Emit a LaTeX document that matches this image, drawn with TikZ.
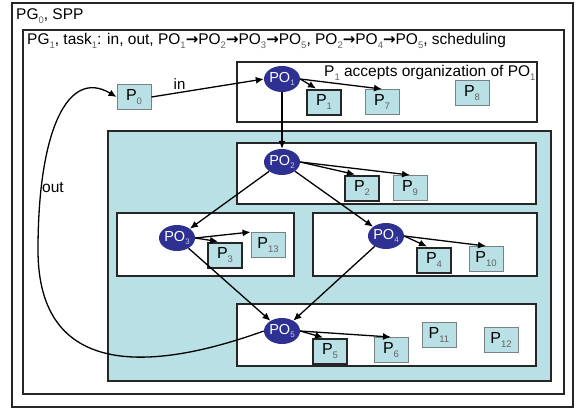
\documentclass[tikz,border=0pt]{standalone}
\usepackage{fontspec}
\setmainfont{Liberation Sans}
\newfontfamily\arrfont{DejaVu Sans}
\usetikzlibrary{shapes.geometric,arrows.meta,calc}

\definecolor{tealfill}{RGB}{185,224,228}
\definecolor{ponavy}{RGB}{46,48,146}
\definecolor{subgray}{RGB}{100,100,100}
\definecolor{thinedge}{RGB}{120,130,130}

% subscripts and arrows used in the labels
\newcommand\sbs[1]{\raisebox{-0.45ex}{\fontsize{9.5}{9.5}\selectfont\color{subgray}#1}}
\newcommand\posbs[1]{\raisebox{-0.45ex}{\fontsize{8}{8}\selectfont\color{white!75!ponavy}#1}}
\newcommand\rarr{{\arrfont\fontsize{15}{16}\selectfont\bfseries →}}

\tikzset{
  frame/.style={draw=black!85, line width=1.9pt},
  pbox/.style={rectangle, fill=tealfill, draw=thinedge, line width=0.9pt,
    minimum width=34pt, minimum height=25pt, inner sep=1pt,
    font=\fontsize{16}{16}\selectfont},
  pboxk/.style={pbox, draw=black!85, line width=2pt},
  po/.style={ellipse, fill=ponavy, draw=none, text=white, minimum width=36pt,
    minimum height=26pt, inner sep=0pt, font=\fontsize{14.5}{14.5}\selectfont},
  link/.style={draw=black, line width=1.3pt, -{Latex[length=8pt,width=7pt]}},
  caption/.style={anchor=west, inner sep=0pt, font=\fontsize{15.5}{17}\selectfont},
}

\begin{document}
\begin{tikzpicture}[x=1pt, y=-1pt]
\useasboundingbox (0,0) rectangle (576,410);

% nested frames
\draw[frame] (12,3) rectangle (573,407);
\node[caption] (t0) at (16,16) {PG\sbs{0}, SPP};
\draw[frame] (23,30) rectangle (564,394);
\node[caption] (t1) at (27,41) {PG\sbs{1}, task\sbs{1}: in, out, PO\sbs{1}\rarr PO\sbs{2}\rarr PO\sbs{3}\rarr PO\sbs{5}, PO\sbs{2}\rarr PO\sbs{4}\rarr PO\sbs{5}, scheduling};

% group frames
\draw[frame, fill=white] (237,62) rectangle (537,122);
\draw[frame, fill=tealfill] (108,131) rectangle (551,381);
\draw[frame, fill=white] (237,143) rectangle (536,204);
\draw[frame, fill=white] (117,213) rectangle (294,276);
\draw[frame, fill=white] (313,213) rectangle (537,276);
\draw[frame, fill=white] (237,304) rectangle (536,366);

% processes
\node[pbox] (P0) at (134,97) {P\sbs{0}};

\node[po] (PO1) at (282,79) {PO\posbs{1}};
\node[pboxk] (P1) at (324,102) {P\sbs{1}};
\node[pbox] (P7) at (382,102) {P\sbs{7}};
\node[pbox] (P8) at (472,93) {P\sbs{8}};
\node[caption] (note) at (324,73) {P\sbs{1} accepts organization of PO\sbs{1}};

\node[po] (PO2) at (282,162) {PO\posbs{2}};
\node[pboxk] (P2) at (362,188) {P\sbs{2}};
\node[pbox] (P9) at (410,188) {P\sbs{9}};

\node[po] (PO3) at (177,238) {PO\posbs{3}};
\node[pboxk] (P3) at (225,255) {P\sbs{3}};
\node[pbox] (P13) at (268,245) {P\sbs{13}};

\node[po] (PO4) at (386,236) {PO\posbs{4}};
\node[pboxk] (P4) at (434,260) {P\sbs{4}};
\node[pbox] (P10) at (486,259) {P\sbs{10}};

\node[po] (PO5) at (282,331) {PO\posbs{5}};
\node[pboxk] (P5) at (330,351) {P\sbs{5}};
\node[pbox] (P6) at (391,350) {P\sbs{6}};
\node[pbox] (P11) at (439,335) {P\sbs{11}};
\node[pbox] (P12) at (501,340) {P\sbs{12}};

% connectors
\draw[link] (P0.east) -- node[above, pos=0.25, inner sep=2pt, font=\fontsize{15}{15}\selectfont] (inlbl) {in} (PO1.west);
\draw[link] (PO1.east) -- ([xshift=10pt]P1.north west);
\draw[link] (PO1.east) -- (P7.north);
\draw[link] (PO1.south) -- (PO2.north);

\draw[link] (PO2.east) -- ([xshift=-7pt]P2.north);
\draw[link] (PO2.east) -- (P9.north);
\draw[link] (PO2) -- (PO3);
\draw[link] (PO2) -- (PO4);

\draw[link] (PO3.east) -- ([xshift=-7pt]P3.north);
\draw[link] (PO3.east) -- (P13.north west);
\draw[link] (PO4.east) -- ([xshift=-7pt]P4.north);
\draw[link] (PO4.east) -- (P10.north);

\draw[link] (PO3) -- (PO5);
\draw[link] (PO4) -- (PO5);

\draw[link] (PO5.east) -- ([xshift=-7pt]P5.north);
\draw[link] (PO5.east) -- (P6.north);

% return path from PO5 back to P0
\coordinate (bend) at (38,250);
\draw[link] (PO5.west) .. controls (150,372) and (38,378) .. (bend)
  .. controls (38,130) and (68,68) .. (P0.west);
\node[caption] (outlbl) at (42,188) {out};
\end{tikzpicture}
\end{document}
